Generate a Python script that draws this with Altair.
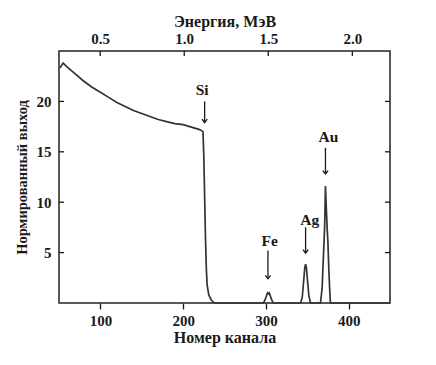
import altair as alt
import pandas as pd

# Spectrum (channel number vs normalized yield)
channels = [51, 55, 60, 70, 80, 90, 100, 110, 120, 130, 140, 150, 160, 170, 180, 190, 200, 210, 220,
            224, 225, 226, 227, 228, 229, 231, 234, 237, 240,
            297, 299, 301, 302, 303, 304, 305, 307, 309,
            342, 344, 346, 347, 348, 349, 350, 352, 354,
            366, 368, 369, 370, 371, 372, 373, 374, 375, 376, 377, 378, 450]
counts = [23.3, 23.8, 23.4, 22.7, 22.0, 21.4, 20.9, 20.4, 19.9, 19.5, 19.1, 18.8, 18.5, 18.2, 18.0, 17.8, 17.7, 17.45, 17.2,
          17.0, 14.5, 10.5, 6.5, 3.5, 1.8, 0.8, 0.3, 0.05, 0.0,
          0.0, 0.3, 0.8, 1.0, 0.9, 1.0, 0.8, 0.3, 0.0,
          0.0, 0.6, 2.5, 3.5, 3.85, 3.5, 2.5, 0.7, 0.0,
          0.0, 1.5, 3.6, 5.5, 7.5, 11.6, 9.5, 7.5, 6.0, 3.5, 1.5, 0.0, 0.0]

# Peak annotations
elements = ["Si", "Fe", "Ag", "Au"]
arrow_ch = [226, 302.5, 348, 372]
arrow_top = [20.0, 5.2, 7.5, 15.4]
arrow_tip = [17.9, 2.4, 4.95, 12.8]
label_ch = [223, 304.5, 353, 375.7]
label_y = [21.1, 6.2, 8.25, 16.5]

x_ticks = [100, 200, 300, 400]
y_ticks = [5, 10, 15, 20]
energy_ticks = [0.5, 1.0, 1.5, 2.0]

W, H = 331, 252
FONT = "Liberation Serif, Times New Roman, serif"
INK = "#1a1a1a"

spec = pd.DataFrame({"ch": channels, "count": counts})
ann = pd.DataFrame({"el": elements, "ch": arrow_ch, "y_top": arrow_top, "y_tip": arrow_tip,
                    "lch": label_ch, "ly": label_y})
yt = pd.DataFrame({"count": y_ticks})
et = pd.DataFrame({"E": energy_ticks})

xscale = alt.Scale(domain=[50, 450], nice=False, zero=False)
yscale = alt.Scale(domain=[0, 25], nice=False)
xaxis = alt.Axis(values=x_ticks, tickSize=6, labelPadding=4, titlePadding=1, domain=False,
                 tickColor=INK, tickWidth=1.3, grid=False, titleFontSize=16)
yaxis = alt.Axis(values=y_ticks, ticks=False, labelPadding=8, titlePadding=7, domain=False, grid=False,
                 titleFontSize=14.5)
XT = "Номер канала"
YT = "Нормированный выход"


def X(field):
    return alt.X(f"{field}:Q", scale=xscale, axis=xaxis, title=XT)


def Y(field):
    return alt.Y(f"{field}:Q", scale=yscale, axis=yaxis, title=YT)


line = alt.Chart(spec).mark_line(color="#333333", strokeWidth=1.7, interpolate="linear").encode(
    x=X("ch"), y=Y("count"))

shafts = alt.Chart(ann).mark_rule(color=INK, strokeWidth=1.3).encode(
    x=X("ch"), y=Y("y_top"), y2="y_tip:Q")

heads = alt.Chart(ann).mark_point(shape="M-1,-1.3L0,0L1,-1.3", filled=False, color=INK,
                                  strokeWidth=1.3, size=28, opacity=1).encode(
    x=X("ch"), y=Y("y_tip"))

labels = alt.Chart(ann).mark_text(font=FONT, fontWeight="bold", fontSize=15.5, color=INK,
                                  baseline="middle").encode(
    x=X("lch"), y=Y("ly"), text="el:N")

left_ticks = alt.Chart(yt).mark_rule(color=INK, strokeWidth=1.3).encode(
    y=Y("count"), x=alt.value(0), x2=alt.value(5))
right_ticks = alt.Chart(yt).mark_rule(color=INK, strokeWidth=1.3).encode(
    y=Y("count"), x=alt.value(W - 5), x2=alt.value(W))

inner = alt.layer(line, shafts, heads, labels, left_ticks, right_ticks)

energy = alt.Chart(et).mark_rule(color=INK, strokeWidth=1.3).encode(
    x=alt.X("E:Q", scale=alt.Scale(domain=[0.255, 2.224], nice=False, zero=False),
            axis=alt.Axis(orient="top", values=energy_ticks, format=".1f", ticks=False, domain=False,
                          labelPadding=5, titlePadding=2, grid=False, titleFontSize=16),
            title="Энергия, МэВ"),
    y=alt.value(0), y2=alt.value(5))

chart = alt.layer(inner, energy).resolve_scale(x="independent").properties(
    width=W, height=H,
    autosize=alt.AutoSizeParams(type="none"),
    padding={"left": 51, "top": 43, "right": 30, "bottom": 50},
).configure_view(stroke="#222222", strokeWidth=1.5).configure_axis(
    labelFont=FONT, labelFontWeight="bold", labelFontSize=15, labelColor=INK,
    titleFont=FONT, titleFontWeight="bold", titleColor=INK,
)

chart.save("out.html", embed_options={"renderer": "svg", "actions": False})
